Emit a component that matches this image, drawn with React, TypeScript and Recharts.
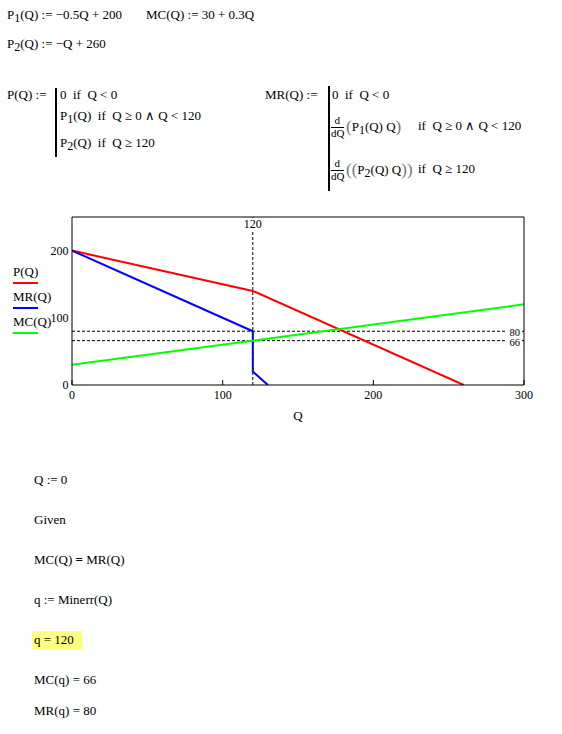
import React from 'react';
import { LineChart, Line, XAxis, YAxis, ReferenceLine } from 'recharts';

// ---- data ----
const qP = [0, 120, 260];
const pValues = [200, 140, 0];
const qMR = [0, 120, 120, 130];
const mrValues = [200, 80, 20, 0];
const qMC = [0, 300];
const mcValues = [30, 120];

const xTicks = [0, 100, 200, 300];
const yTicks = [0, 100, 200];
const innerXTicks = [100, 200];
const innerYTicks = [100, 200];
const xDomain = [0, 300];
const yDomain = [0, 250];

const qStar = 120;
const mcStar = 66;
const mrStar = 80;

const seriesNames = ['P(Q)', 'MR(Q)', 'MC(Q)'];
const seriesColors = ['#ff0000', '#0000ff', '#00ff00'];

const toPoints = (qs: number[], vs: number[]) => qs.map((q, i) => ({ q, v: vs[i] }));
const seriesData = [toPoints(qP, pValues), toPoints(qMR, mrValues), toPoints(qMC, mcValues)];

const FONT = '"Liberation Serif", "Times New Roman", serif';

// ---- text helpers ----
const T = ({ x, b, fs = 13, children, style }: any) => (
  <div
    style={{
      position: 'absolute',
      left: x,
      top: b - fs * 0.8375,
      lineHeight: `${fs}px`,
      fontSize: fs,
      whiteSpace: 'pre',
      ...style,
    }}
  >
    {children}
  </div>
);

const Sub = ({ children }: any) => (
  <span style={{ position: 'relative', top: 3, fontSize: 12 }}>{children}</span>
);

const BigParen = ({ children }: any) => (
  <span style={{ fontSize: 17, color: '#777', position: 'relative', top: 1 }}>{children}</span>
);

const Bar = ({ x, y1, y2 }: any) => (
  <div style={{ position: 'absolute', left: x, top: y1, width: 2, height: y2 - y1, background: '#000' }} />
);

const Frac = ({ x, b }: any) => (
  <>
    <T x={x + 3.5} b={b - 5.7} fs={11}>d</T>
    <div style={{ position: 'absolute', left: x, top: b - 3, width: 13, height: 1, background: '#000' }} />
    <T x={x} b={b + 7.3} fs={11}>dQ</T>
  </>
);

// label with a white patch hiding the dashed line beneath it
const TopLabel = (props: any) => {
  const { viewBox, value } = props;
  const cx = viewBox.x;
  const y = viewBox.y;
  return (
    <g>
      <rect x={cx - 3} y={y + 1} width={6} height={12} fill="#fff" />
      <text x={cx} y={y + 11} textAnchor="middle" fontSize={12} fontFamily={FONT} fill="#000">
        {value}
      </text>
    </g>
  );
};

const RightLabel = (props: any) => {
  const { viewBox, value } = props;
  const right = viewBox.x + viewBox.width - 4;
  const y = viewBox.y;
  return (
    <g>
      <rect x={right - 14} y={y - 1} width={14} height={2} fill="#fff" />
      <text x={right} y={y + 5} textAnchor="end" fontSize={10.5} fontFamily={FONT} fill="#000">
        {value}
      </text>
    </g>
  );
};

export default function App() {
  const tickStyle = { fill: '#000', fontSize: 12, fontFamily: FONT };
  return (
    <div
      style={{
        position: 'absolute',
        left: 0,
        top: 0,
        width: 562,
        height: 734,
        background: '#fff',
        fontFamily: FONT,
        color: '#000',
        overflow: 'hidden',
      }}
    >
      <div style={{ position: 'absolute', left: 0, top: 0 }}>
        <LineChart
          width={562}
          height={440}
          margin={{ top: 216, right: 37, bottom: 25, left: 32 }}
          style={{ fontFamily: FONT }}
        >
          <XAxis
            xAxisId="bottom"
            dataKey="q"
            type="number"
            domain={xDomain}
            allowDataOverflow
            ticks={xTicks}
            interval={0}
            height={30}
            tickSize={-5}
            tickMargin={10}
            axisLine={{ stroke: '#000' }}
            tickLine={{ stroke: '#000' }}
            tick={tickStyle}
            label={{ value: 'Q', position: 'bottom', offset: -4, fill: '#000', fontSize: 13, fontFamily: FONT }}
          />
          <XAxis
            xAxisId="top"
            orientation="top"
            dataKey="q"
            type="number"
            domain={xDomain}
            allowDataOverflow
            ticks={innerXTicks}
            interval={0}
            height={1}
            tickSize={-5}
            axisLine={{ stroke: '#000' }}
            tickLine={{ stroke: '#000' }}
            tick={false}
          />
          <YAxis
            yAxisId="left"
            type="number"
            domain={yDomain}
            allowDataOverflow
            ticks={yTicks}
            interval={0}
            width={40}
            tickSize={0}
            tickMargin={3.5}
            axisLine={{ stroke: '#000' }}
            tickLine={false}
            tick={tickStyle}
          />
          <YAxis
            yAxisId="right"
            orientation="right"
            type="number"
            domain={yDomain}
            allowDataOverflow
            ticks={innerYTicks}
            interval={0}
            width={1}
            tickSize={-5}
            axisLine={{ stroke: '#000' }}
            tickLine={{ stroke: '#000' }}
            tick={false}
          />
          <ReferenceLine
            xAxisId="bottom"
            yAxisId="left"
            x={qStar}
            stroke="#000"
            strokeDasharray="3 2"
            label={<TopLabel value={String(qStar)} />}
          />
          <ReferenceLine
            xAxisId="bottom"
            yAxisId="left"
            y={mrStar}
            stroke="#000"
            strokeDasharray="3 2"
            label={<RightLabel value={String(mrStar)} />}
          />
          <ReferenceLine
            xAxisId="bottom"
            yAxisId="left"
            y={mcStar}
            stroke="#000"
            strokeDasharray="3 2"
            label={<RightLabel value={String(mcStar)} />}
          />
          {seriesData.map((d, i) => (
            <Line
              key={seriesNames[i]}
              xAxisId="bottom"
              yAxisId="left"
              data={d}
              dataKey="v"
              name={seriesNames[i]}
              type="linear"
              stroke={seriesColors[i]}
              strokeWidth={2}
              dot={false}
              activeDot={false}
              isAnimationActive={false}
            />
          ))}
        </LineChart>
      </div>

      {/* legend */}
      {seriesNames.map((n, i) => (
        <React.Fragment key={n}>
          <T x={13} b={276 + i * 25}>{n}</T>
          <div
            style={{
              position: 'absolute',
              left: 13,
              top: 281.7 + i * 25,
              width: 25,
              height: 2,
              background: seriesColors[i],
            }}
          />
        </React.Fragment>
      ))}

      {/* definitions */}
      <T x={7} b={19}>P<Sub>1</Sub>(Q) := −0.5Q + 200</T>
      <T x={146} b={19}>MC(Q) := 30 + 0.3Q</T>
      <T x={7} b={48}>P<Sub>2</Sub>(Q) := −Q + 260</T>

      <T x={7} b={98.5}>P(Q) :=</T>
      <Bar x={54.5} y1={88} y2={157} />
      <T x={60} b={98.5}>0  if  Q {'<'} 0</T>
      <T x={60} b={120}>P<Sub>1</Sub>(Q)  if  Q ≥ 0 ∧ Q {'<'} 120</T>
      <T x={60} b={147}>P<Sub>2</Sub>(Q)  if  Q ≥ 120</T>

      <T x={265} b={98.5}>MR(Q) :=</T>
      <Bar x={328} y1={86} y2={191} />
      <T x={332} b={98.5}>0  if  Q {'<'} 0</T>
      <Frac x={331} b={130} />
      <T x={346} b={130}>
        <BigParen>(</BigParen>P<Sub>1</Sub>(Q) Q<BigParen>)</BigParen>
      </T>
      <T x={418} b={130}>if  Q ≥ 0 ∧ Q {'<'} 120</T>
      <Frac x={331} b={172.5} />
      <T x={346} b={172.5}>
        <BigParen>((</BigParen>P<Sub>2</Sub>(Q) Q<BigParen>))</BigParen>
      </T>
      <T x={418} b={172.5}>if  Q ≥ 120</T>

      {/* solve block */}
      <T x={34} b={484}>Q := 0</T>
      <T x={34} b={524}>Given</T>
      <T x={34} b={564}>
        MC(Q) <b>=</b> MR(Q)
      </T>
      <T x={34} b={604}>q := Minerr(Q)</T>
      <div style={{ position: 'absolute', left: 32, top: 631, width: 50, height: 18, background: '#ffff80' }} />
      <T x={34} b={644}>q = {qStar}</T>
      <T x={34} b={684}>MC(q) = {mcStar}</T>
      <T x={34} b={715}>MR(q) = {mrStar}</T>
    </div>
  );
}
